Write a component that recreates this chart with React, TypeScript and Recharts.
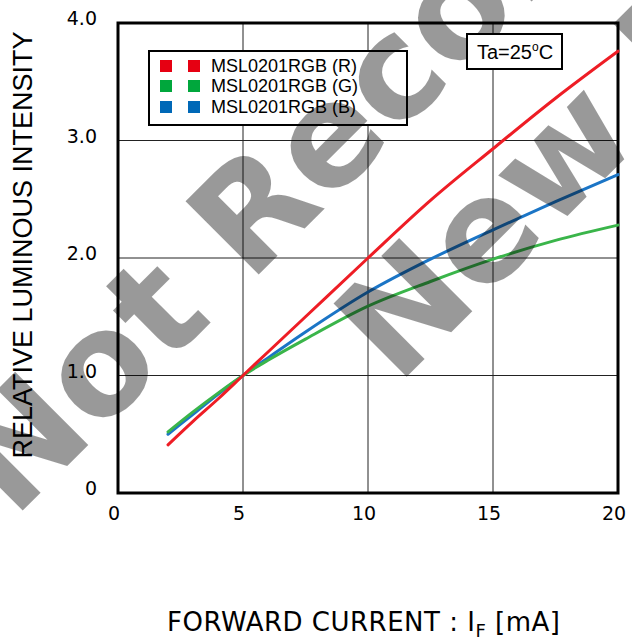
import { LineChart, Line, XAxis, YAxis, CartesianGrid, Legend, ReferenceArea } from "recharts";

// forward current [mA] and relative luminous intensity
const current = [2, 3, 4, 5, 6, 7.5, 10, 12.5, 15, 17.5, 20];
const redIntensity = [0.41, 0.61, 0.8, 1.0, 1.2, 1.5, 2.0, 2.49, 2.93, 3.36, 3.76];
const greenIntensity = [0.52, 0.69, 0.85, 1.0, 1.13, 1.31, 1.59, 1.8, 1.99, 2.15, 2.28];
const blueIntensity = [0.5, 0.67, 0.84, 1.0, 1.15, 1.37, 1.71, 1.99, 2.24, 2.48, 2.71];

const xTicks = [0, 5, 10, 15, 20];
const yTicks = [0, 1, 2, 3, 4];
const yTickLabels = ["0", "1.0", "2.0", "3.0", "4.0"];

const seriesNames = ["MSL0201RGB (R)", "MSL0201RGB (G)", "MSL0201RGB (B)"];
const legendColors = ["#e60012", "#00a73c", "#0068b7"];
const lineColors = ["#ee1d25", "#3ab54a", "#1b75c6"];

const chartData = current.map((c, i) => ({
  current: c,
  red: redIntensity[i],
  green: greenIntensity[i],
  blue: blueIntensity[i],
}));

const verdana = "'DejaVu Sans', Verdana, sans-serif";
const arial = "'Liberation Sans', Arial, sans-serif";

function XTick(props: any) {
  const { x, y, payload } = props;
  return (
    <text x={x - 4} y={y + 27} textAnchor="middle" fontFamily={verdana} fontSize={19} fill="#000">
      {payload.value}
    </text>
  );
}

function YTick(props: any) {
  const { x, y, payload } = props;
  const idx = yTicks.indexOf(payload.value);
  return (
    <text x={x - 21} y={y + 2} textAnchor="end" fontFamily={verdana} fontSize={19} fill="#000">
      {yTickLabels[idx]}
    </text>
  );
}

function LegendBox() {
  return (
    <div
      style={{
        position: "relative",
        width: 260,
        height: 76,
        boxSizing: "border-box",
        border: "2px solid #000",
        background: "#fff",
        fontFamily: arial,
        fontSize: 18,
        color: "#000",
      }}
    >
      {seriesNames.map((name, i) => (
        <div key={name}>
          <div style={{ position: "absolute", left: 10.5, top: 7.5 + i * 20.5, width: 12, height: 12, background: legendColors[i] }} />
          <div style={{ position: "absolute", left: 38.5, top: 7.5 + i * 20.5, width: 12, height: 12, background: legendColors[i] }} />
          <div style={{ position: "absolute", left: 61.5, top: 2.5 + i * 20.5, lineHeight: "22px", whiteSpace: "nowrap" }}>{name}</div>
        </div>
      ))}
    </div>
  );
}

export default function App() {
  return (
    <div style={{ position: "absolute", left: 0, top: 0, width: 632, height: 640, background: "#fff", overflow: "hidden" }}>
      <LineChart width={632} height={640} data={chartData} margin={{ top: 23, right: 14, bottom: 0, left: 0 }}>
        <CartesianGrid stroke="#222" strokeWidth={1} />
        <XAxis
          dataKey="current"
          type="number"
          domain={[0, 20]}
          ticks={xTicks}
          height={147}
          tickSize={0}
          tickMargin={0}
          tickLine={false}
          axisLine={false}
          tick={XTick}
          interval={0}
        />
        <YAxis
          type="number"
          domain={[0, 4]}
          ticks={yTicks}
          width={118}
          tickSize={0}
          tickMargin={0}
          tickLine={false}
          axisLine={false}
          tick={YTick}
          interval={0}
        />
        <ReferenceArea x1={0} x2={20} y1={0} y2={4} fill="none" stroke="#000" strokeWidth={3} />
        <Line type="monotone" dataKey="blue" stroke={lineColors[2]} strokeWidth={3} strokeLinecap="round" dot={false} isAnimationActive={false} />
        <Line type="monotone" dataKey="green" stroke={lineColors[1]} strokeWidth={3} strokeLinecap="round" dot={false} isAnimationActive={false} />
        <Line type="monotone" dataKey="red" stroke={lineColors[0]} strokeWidth={3} strokeLinecap="round" dot={false} isAnimationActive={false} />
        <Legend
          layout="vertical"
          align="center"
          verticalAlign="middle"
          content={() => <LegendBox />}
          wrapperStyle={{ left: 147.5, top: 50, width: 260, height: 76 }}
        />
      </LineChart>

      <svg width={632} height={640} style={{ position: "absolute", left: 0, top: 0, pointerEvents: "none" }}>
        {/* axis titles */}
        <text x={32} y={245} transform="rotate(-90 32 245)" textAnchor="middle" fontFamily={arial} fontSize={27} fill="#000">
          RELATIVE LUMINOUS INTENSITY
        </text>
        <text x={167} y={631} fontFamily={verdana} fontSize={26} letterSpacing={0.5} fill="#000">
          FORWARD CURRENT : I<tspan fontSize={18} dy={6}>F</tspan>
          <tspan dy={-6}> [mA]</tspan>
        </text>

        {/* watermark */}
        <g transform="rotate(-45)" fontFamily={verdana} fontWeight="bold" fontSize={142} fill="#000" fillOpacity={0.4}>
          <text x={-358} y={377}>Not Recommended</text>
          <text x={8} y={554}>New Designs</text>
        </g>

        {/* Ta box sits above the watermark */}
        <rect x={467} y={34} width={95} height={35} fill="#fff" stroke="#000" strokeWidth={2} />
        <text x={515} y={59} textAnchor="middle" fontFamily={arial} fontSize={20} fill="#000">
          Ta=25<tspan fontSize={12} dy={-8}>o</tspan>
          <tspan dy={8}>C</tspan>
        </text>
      </svg>
    </div>
  );
}
